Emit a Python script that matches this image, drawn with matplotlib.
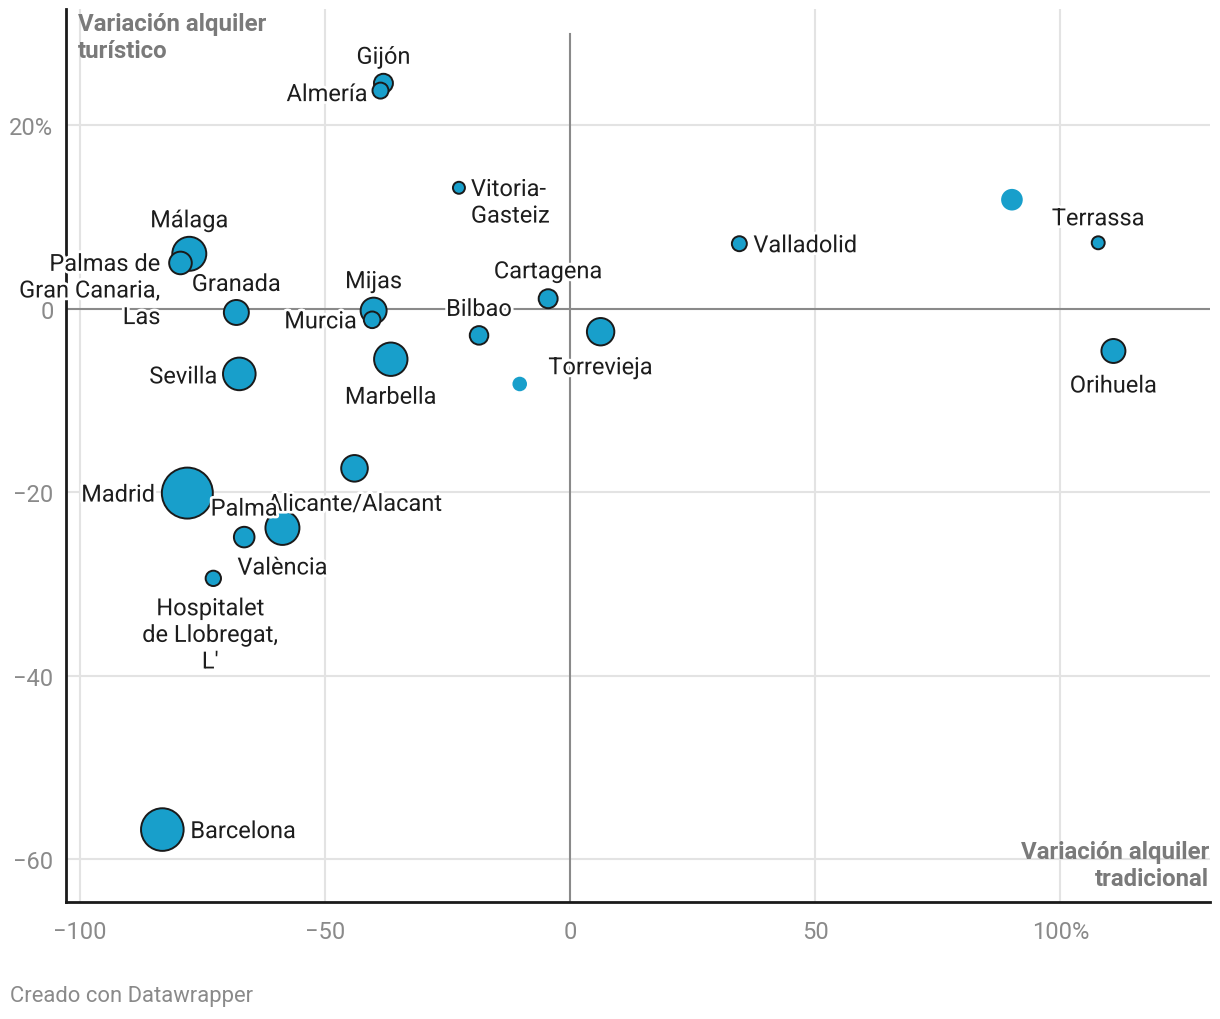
import matplotlib.pyplot as plt
import matplotlib.patheffects as pe

plt.rcParams['font.family'] = ['Roboto', 'DejaVu Sans']

# variación alquiler tradicional (%) / turístico (%) por ciudad
ciudades = ['Gijón', 'Almería', 'Vitoria-\nGasteiz', 'Terrassa', 'Valladolid', 'Málaga',
            'Palmas de\nGran Canaria,\nLas', 'Cartagena', 'Granada', 'Mijas', 'Murcia',
            'Bilbao', 'Torrevieja', 'Marbella', 'Orihuela', 'Sevilla', 'Alicante/Alacant',
            'Madrid', 'Palma', 'València', 'Hospitalet\nde Llobregat,\nL\'', 'Barcelona']
var_tradicional = [-38.1, -38.7, -22.7, 107.7, 34.5, -77.7, -79.5, -4.5, -68.1, -40.1, -40.4,
                   -18.6, 6.2, -36.6, 110.8, -67.5, -44.0, -78.1, -66.5, -58.7, -72.8, -83.2]
var_turistico = [24.6, 23.8, 13.2, 7.2, 7.1, 6.0, 5.0, 1.1, -0.4, -0.2, -1.2,
                 -2.9, -2.5, -5.5, -4.6, -7.1, -17.4, -20.1, -24.9, -23.9, -29.4, -56.8]
tamano = [90, 64, 36, 42, 56, 289, 128, 90, 156, 169, 69,
          86, 188, 279, 144, 266, 177, 650, 106, 289, 59, 454]

# puntos sin etiqueta (resaltados)
extra_x = [90.1, -10.3]
extra_y = [11.9, -8.2]
extra_tam = [117, 53]

x_ticks = [-100, -50, 0, 50, 100]
x_labels = ['\u2212100', '\u221250', '0', '50', '100%']
y_ticks = [20, 0, -20, -40, -60]
y_labels = ['20%', '0', '\u221220', '\u221240', '\u221260']

# desplazamiento de etiquetas en pixeles: (dx, dy, ha)
etiquetas = {
    'Gijón': (0, 28, 'center'), 'Almería': (-13, -2, 'right'),
    'Vitoria-\nGasteiz': (12, -13, 'left'), 'Terrassa': (0, 26, 'center'),
    'Valladolid': (14, 0, 'left'), 'Málaga': (0, 35, 'center'),
    'Palmas de\nGran Canaria,\nLas': (-20, -26, 'right'), 'Cartagena': (0, 29, 'center'),
    'Granada': (0, 30, 'center'), 'Mijas': (0, 31, 'center'), 'Murcia': (-15, 0, 'right'),
    'Bilbao': (0, 28, 'center'), 'Torrevieja': (0, -34, 'center'), 'Marbella': (0, -36, 'center'),
    'Orihuela': (0, -33, 'center'), 'Sevilla': (-22, -1, 'right'),
    'Alicante/Alacant': (0, -34, 'center'), 'Madrid': (-32, 0, 'right'),
    'Palma': (0, 30, 'center'), 'València': (0, -38, 'center'),
    'Hospitalet\nde Llobregat,\nL\'': (-3, -55, 'center'), 'Barcelona': (28, 0, 'left'),
}

azul = '#189fcb'
escala = 0.72 ** 2 * 4  # px^2 -> pt^2 (diametro)

fig = plt.figure(figsize=(12.2, 10.2), dpi=100)
ax = fig.add_axes([66 / 1220, 1 - 903 / 1020, (1210 - 66) / 1220, (903 - 10) / 1020])
ax.set_xlim(-102.85, 130.5)
ax.set_ylim(-64.7, 32.7)

for t in x_ticks:
    if t != 0:
        ax.axvline(t, color='#e3e3e3', lw=1.5, zorder=0)
for t in y_ticks:
    if t != 0:
        ax.axhline(t, color='#e3e3e3', lw=1.5, zorder=0)
ax.axhline(0, color='#8a8a8a', lw=1.5, zorder=1)
ax.plot([0, 0], [-64.7, 30], color='#8a8a8a', lw=1.5, zorder=1)

ax.scatter(extra_x, extra_y, s=[t * escala for t in extra_tam], color=azul, lw=0, zorder=3)

orden = sorted(range(len(ciudades)), key=lambda i: -tamano[i])
ax.scatter([var_tradicional[i] for i in orden], [var_turistico[i] for i in orden],
           s=[tamano[i] * escala for i in orden], color=azul, edgecolor='#1a1a1a',
           lw=1.4, zorder=3)

halo = [pe.withStroke(linewidth=4, foreground='white')]
for c, x, y in zip(ciudades, var_tradicional, var_turistico):
    dx, dy, ha = etiquetas[c]
    ax.annotate(c, (x, y), xytext=(dx, dy - 2), textcoords='offset pixels', ha=ha, va='center',
                multialignment=ha, fontsize=17, color='#1d1d1d', linespacing=1.2,
                path_effects=halo, zorder=4)

ax.set_xticks(x_ticks, x_labels)
ax.set_yticks(y_ticks, y_labels)
ax.tick_params(length=0, labelsize=17, labelcolor='#8a8a8a')
ax.tick_params(axis='x', pad=13)
ax.tick_params(axis='y', pad=9)
for s in ['top', 'right']:
    ax.spines[s].set_visible(False)
for s in ['left', 'bottom']:
    ax.spines[s].set_color('#1a1a1a')
    ax.spines[s].set_linewidth(2)

fig.text(78 / 1220, 1 - 13 / 1020, 'Variación alquiler\nturístico', fontsize=17.3,
         fontweight='bold', color='#7a7a7a', ha='left', va='top', linespacing=1.25)
fig.text(1209 / 1220, 1 - 841 / 1020, 'Variación alquiler\ntradicional', fontsize=17.3,
         fontweight='bold', color='#7a7a7a', ha='right', va='top', linespacing=1.25)
fig.text(10 / 1220, 1 - 997 / 1020, 'Creado con Datawrapper', fontsize=15.8,
         color='#8a8a8a', ha='left', va='center')

fig.savefig('out.png', dpi=100)
